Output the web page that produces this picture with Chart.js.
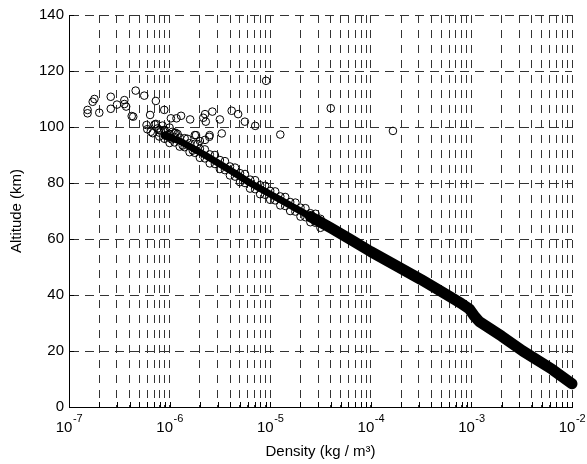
<!DOCTYPE html>
<html>
<head>
<meta charset="utf-8">
<script src="https://cdn.jsdelivr.net/npm/chart.js@4.4.1/dist/chart.umd.min.js"></script>
<style>
  html, body { margin: 0; padding: 0; background: #fff; }
  canvas { display: block; }
</style>
</head>
<body>
<canvas id="chart" width="587" height="464"></canvas>
<script>
// axis ticks
const xTickExponents = [-7, -6, -5, -4, -3, -2];
const yTicks = [0, 20, 40, 60, 80, 100, 120, 140];

// dense part of the profile (kg/m3, km), lower part is a solid band
const bandLowerDensity = [2.51e-5, 3.98e-5, 6.17e-5, 1.0e-4, 1.78e-4, 3.16e-4, 5.75e-4, 7.94e-4, 9.55e-4, 1.07e-3, 1.2e-3, 2.0e-3, 3.24e-3, 6.31e-3, 1.0e-2];
const bandLowerAltitude = [68, 64, 60, 55.5, 50.5, 45.5, 40, 37, 35, 32.5, 30.5, 25.3, 20, 13.5, 8.3];
const bandUpperDensity = [8.9e-7, 1.26e-6, 2.24e-6, 4.47e-6, 6.31e-6, 1.26e-5, 2.51e-5];
const bandUpperAltitude = [97, 95, 90, 83.5, 80, 74, 68];

// individual samples (circles)
const sampleDensity = [
  // upper band, inner samples
  7.9e-7, 8.9e-7, 1.0e-6, 1.12e-6, 1.26e-6, 1.41e-6, 1.58e-6, 1.78e-6, 2.0e-6, 2.24e-6, 2.51e-6,
  2.82e-6, 3.16e-6, 3.55e-6, 3.98e-6, 4.47e-6, 5.01e-6, 5.62e-6, 6.31e-6, 7.08e-6, 7.94e-6,
  8.91e-6, 1.0e-5, 1.12e-5, 1.26e-5, 1.41e-5, 1.58e-5, 1.78e-5, 2.0e-5, 2.24e-5, 2.51e-5, 2.82e-5, 3.16e-5,
  // upper band, outer samples
  7.9e-7, 8.9e-7, 1.0e-6, 1.12e-6, 1.26e-6, 1.41e-6, 1.58e-6, 1.78e-6, 2.0e-6, 2.24e-6, 2.51e-6,
  2.82e-6, 3.16e-6, 3.55e-6, 3.98e-6, 4.47e-6, 5.01e-6, 5.62e-6, 6.31e-6, 7.08e-6, 7.94e-6,
  8.91e-6, 1.0e-5, 1.12e-5, 1.26e-5, 1.41e-5, 1.58e-5, 1.78e-5, 2.0e-5, 2.24e-5, 2.51e-5, 2.82e-5, 3.16e-5,
  // cluster near 1e-6
  6.0e-7, 6.8e-7, 7.6e-7, 7.9e-7, 8.5e-7, 8.9e-7, 9.5e-7, 1.0e-6, 1.07e-6, 1.12e-6, 7.1e-7, 1.2e-6,
  8.2e-7, 9.2e-7, 1.05e-6, 1.15e-6, 1.35e-6, 1.5e-6, 1.7e-6, 1.9e-6,
  // scattered points above the profile
  1.53e-7, 1.53e-7, 1.72e-7, 1.79e-7, 2.0e-7, 2.6e-7, 2.6e-7, 3.0e-7, 3.55e-7, 3.55e-7, 3.7e-7,
  4.35e-7, 4.6e-7, 5.6e-7, 5.9e-7, 6.5e-7, 6.4e-7, 7.3e-7, 7.3e-7, 8.85e-7, 1.03e-6, 1.3e-6,
  1.6e-6, 1.83e-6, 9.1e-6, 4.14e-6, 4.8e-6, 5.6e-6, 7.1e-6, 1.26e-5, 2.66e-6, 2.25e-6, 2.16e-6,
  2.29e-6, 3.16e-6, 3.3e-6, 1.78e-6, 2.5e-6, 1.17e-6, 4.2e-7, 2.0e-6, 2.48e-6, 2.25e-6,
  4.0e-5, 1.66e-4
];
const sampleAltitude = [
  99.0, 95.8, 97.5, 94.5, 96.2, 92.8, 94.2, 90.8, 92.2, 88.8, 90.2,
  86.8, 88.2, 84.6, 85.9, 82.3, 83.5, 80.0, 81.2, 77.8, 79.2,
  75.8, 77.2, 73.8, 75.2, 71.8, 73.2, 69.8, 71.2, 67.8, 69.2, 65.8, 67.2,
  96.6, 99.0, 94.3, 97.7, 93.0, 96.0, 91.0, 94.0, 89.0, 92.0, 87.0,
  90.0, 85.0, 87.8, 82.7, 85.5, 80.3, 83.2, 78.0, 81.0, 76.0,
  79.0, 74.0, 77.0, 72.0, 75.0, 70.0, 73.0, 68.0, 71.0, 66.0, 69.0, 64.0,
  99.2, 97.8, 99.5, 98.0, 100.5, 98.8, 97.2, 99.8, 98.3, 96.4, 100.9, 97.5,
  98.6, 96.8, 95.6, 97.9, 93.4, 95.8, 91.6, 93.9,
  106.1, 104.9, 109.0, 110.0, 105.1, 110.8, 106.5, 108.0, 108.2, 109.6, 107.3,
  103.7, 113.0, 111.2, 100.7, 98.3, 104.3, 109.3, 101.1, 106.1, 103.1, 104.0,
  102.7, 97.1, 116.5, 105.8, 104.6, 101.9, 100.4, 97.3, 105.5, 104.6, 103.3,
  101.9, 102.7, 97.7, 97.1, 97.1, 103.1, 103.9, 95.0, 96.5, 95.4,
  106.7, 98.6
];

const FONT = '"Liberation Sans", Arial, sans-serif';
const gridColor = '#333';

const toPoints = (xs, ys) => xs.map((x, i) => ({ x: x, y: ys[i] }));

// draws the 10^n labels and the small inward tick marks
const logTickLabels = {
  id: 'logTickLabels',
  afterDraw(chart) {
    const ctx = chart.ctx;
    const xs = chart.scales.x;
    const ys = chart.scales.y;
    const area = chart.chartArea;
    ctx.save();
    ctx.strokeStyle = '#000';
    ctx.lineWidth = 1;
    ctx.setLineDash([]);
    ctx.beginPath();
    xs.ticks.forEach(t => {
      const px = Math.round(xs.getPixelForValue(t.value)) + 0.5;
      ctx.moveTo(px, area.bottom);
      ctx.lineTo(px, area.bottom - 5);
    });
    ys.ticks.forEach(t => {
      const py = Math.round(ys.getPixelForValue(t.value)) + 0.5;
      ctx.moveTo(area.left, py);
      ctx.lineTo(area.left + 5, py);
    });
    ctx.stroke();

    ctx.fillStyle = '#000';
    ctx.textBaseline = 'alphabetic';
    ctx.textAlign = 'left';
    xTickExponents.forEach(e => {
      const px = xs.getPixelForValue(Math.pow(10, e));
      ctx.font = '15px ' + FONT;
      const baseW = ctx.measureText('10').width;
      ctx.font = '11px ' + FONT;
      const expW = ctx.measureText(String(e)).width;
      const start = px - (baseW + expW) / 2;
      ctx.font = '15px ' + FONT;
      ctx.fillText('10', start, area.bottom + 25);
      ctx.font = '11px ' + FONT;
      ctx.fillText(String(e), start + baseW + 0.5, area.bottom + 15);
    });
    ctx.restore();
  }
};

new Chart(document.getElementById('chart'), {
  type: 'scatter',
  data: {
    datasets: [
      {
        label: 'samples',
        data: toPoints(sampleDensity, sampleAltitude),
        pointStyle: 'circle',
        pointRadius: 3.8,
        borderColor: '#000',
        backgroundColor: 'rgba(0,0,0,0)',
        borderWidth: 1
      },
      {
        label: 'upper band',
        data: toPoints(bandUpperDensity, bandUpperAltitude),
        showLine: true,
        pointRadius: 0,
        borderColor: '#000',
        borderWidth: 7,
        borderCapStyle: 'round',
        borderJoinStyle: 'round',
        clip: false
      },
      {
        label: 'lower band',
        data: toPoints(bandLowerDensity, bandLowerAltitude),
        showLine: true,
        pointRadius: 0,
        borderColor: '#000',
        borderWidth: 11,
        borderCapStyle: 'round',
        borderJoinStyle: 'round',
        clip: false
      }
    ]
  },
  options: {
    responsive: false,
    animation: false,
    layout: { padding: { top: 15, right: 15, left: 0, bottom: 0 } },
    plugins: {
      legend: { display: false },
      tooltip: { enabled: false }
    },
    scales: {
      x: {
        type: 'logarithmic',
        min: 1e-7,
        max: 1e-2,
        afterBuildTicks: scale => {
          const ticks = [];
          const last = xTickExponents[xTickExponents.length - 1];
          xTickExponents.forEach(e => {
            for (let m = 1; m <= 9; m++) {
              if (e === last && m > 1) break;
              ticks.push({ value: m * Math.pow(10, e), major: m === 1 });
            }
          });
          scale.ticks = ticks;
        },
        afterFit: scale => { scale.height = 57; },
        ticks: { display: false },
        grid: { color: gridColor, lineWidth: 1, drawTicks: false },
        border: { display: true, color: '#000', width: 1, dash: [8, 7] },
        title: {
          display: true,
          text: 'Density (kg / m³)',
          color: '#000',
          font: { family: FONT, size: 15 },
          padding: { top: 0, bottom: 3 }
        }
      },
      y: {
        min: 0,
        max: 140,
        afterBuildTicks: scale => { scale.ticks = yTicks.map(v => ({ value: v })); },
        afterFit: scale => { scale.width = 69; },
        ticks: { color: '#000', font: { family: FONT, size: 15 }, padding: 5 },
        grid: { color: gridColor, lineWidth: 1, drawTicks: false },
        border: { display: true, color: '#000', width: 1, dash: [9, 6] },
        title: {
          display: true,
          text: 'Altitude (km)',
          color: '#000',
          font: { family: FONT, size: 15 },
          padding: { top: 8, bottom: 0 }
        }
      }
    }
  },
  plugins: [logTickLabels]
});
</script>
</body>
</html>
